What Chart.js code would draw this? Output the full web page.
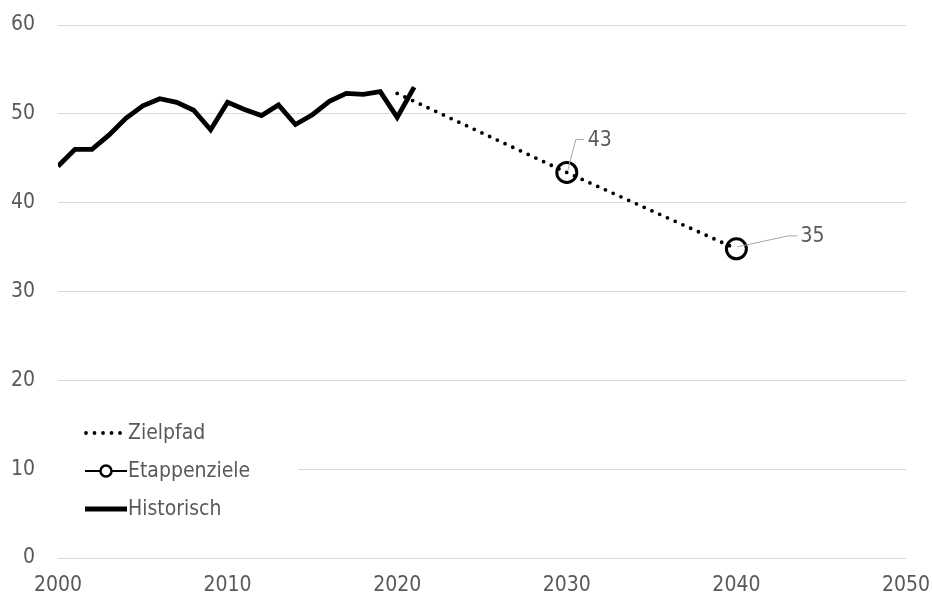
<!DOCTYPE html>
<html>
<head>
<meta charset="utf-8">
<script src="https://cdn.jsdelivr.net/npm/chart.js@4"></script>
<style>
  html, body { margin: 0; padding: 0; background: #fff; }
  #wrap { width: 932px; height: 598px; }
</style>
</head>
<body>
<div id="wrap"><canvas id="chart"></canvas></div>
<script>
// Historische Werte
const histYears = [2000, 2001, 2002, 2003, 2004, 2005, 2006, 2007, 2008, 2009, 2010,
                   2011, 2012, 2013, 2014, 2015, 2016, 2017, 2018, 2019, 2020, 2021];
const histValues = [44.1, 46.0, 46.0, 47.6, 49.5, 50.9, 51.7, 51.3, 50.4, 48.2, 51.3,
                    50.5, 49.8, 51.0, 48.8, 49.9, 51.4, 52.3, 52.2, 52.5, 49.6, 53.0];

// Zielpfad
const pathYears = [2020, 2030, 2040];
const pathValues = [52.3, 43.4, 34.8];

// Etappenziele
const goalYears = [2030, 2040];
const goalValues = [43.4, 34.8];
const goalLabels = ['43', '35'];

const FONT = '"DejaVu Sans Condensed", "Open Sans", sans-serif';
const TXT = '#595959';

const toXY = (xs, ys) => xs.map((x, i) => ({ x: x, y: ys[i] }));

// Beschriftungen der Etappenziele mit Führungslinie
const goalLabelPlugin = {
  id: 'goalLabels',
  afterDatasetsDraw(chart) {
    const ctx = chart.ctx;
    const meta = chart.getDatasetMeta(1);
    // Versatz der Beschriftung (Knick, Ende, Text)
    const offs = [
      { kx: 9, ky: -33, ex: 17, tx: 21, ty: -32 },
      { kx: 52, ky: -13, ex: 61, tx: 64, ty: -12 }
    ];
    ctx.save();
    meta.data.forEach((pt, i) => {
      const o = offs[i];
      ctx.strokeStyle = '#a6a6a6';
      ctx.lineWidth = 1;
      ctx.beginPath();
      ctx.moveTo(pt.x + 1, pt.y - 2);
      ctx.lineTo(pt.x + o.kx, pt.y + o.ky);
      ctx.lineTo(pt.x + o.ex, pt.y + o.ky);
      ctx.stroke();
      ctx.fillStyle = TXT;
      ctx.font = '21px ' + FONT;
      ctx.textAlign = 'left';
      ctx.textBaseline = 'middle';
      ctx.fillText(goalLabels[i], pt.x + o.tx, pt.y + o.ty);
    });
    ctx.restore();
  }
};

// Legende im Diagramm unten links
const legendPlugin = {
  id: 'innerLegend',
  afterDraw(chart) {
    const ctx = chart.ctx;
    const area = chart.chartArea;
    const x0 = area.left + 27;
    const rows = [433, 471, 509];
    ctx.save();
    ctx.fillStyle = '#fff';
    ctx.fillRect(area.left - 1, 412, 241, 118);

    const ds = chart.data.datasets;
    // Zielpfad
    ctx.strokeStyle = '#000';
    ctx.lineCap = 'round';
    ctx.lineWidth = ds[0].borderWidth;
    ctx.setLineDash(ds[0].borderDash);
    ctx.beginPath();
    ctx.moveTo(x0 + 1, rows[0]);
    ctx.lineTo(x0 + 42, rows[0]);
    ctx.stroke();
    ctx.setLineDash([]);

    // Etappenziele
    ctx.lineCap = 'butt';
    ctx.lineWidth = 2;
    ctx.beginPath();
    ctx.moveTo(x0, rows[1]);
    ctx.lineTo(x0 + 42, rows[1]);
    ctx.stroke();
    ctx.lineWidth = 2.5;
    ctx.fillStyle = '#fff';
    ctx.beginPath();
    ctx.arc(x0 + 21, rows[1], 5.5, 0, Math.PI * 2);
    ctx.fill();
    ctx.stroke();

    // Historisch
    ctx.lineWidth = ds[2].borderWidth;
    ctx.beginPath();
    ctx.moveTo(x0, rows[2]);
    ctx.lineTo(x0 + 42, rows[2]);
    ctx.stroke();

    ctx.fillStyle = TXT;
    ctx.font = '21px ' + FONT;
    ctx.textAlign = 'left';
    ctx.textBaseline = 'middle';
    ['Zielpfad', 'Etappenziele', 'Historisch'].forEach((t, i) => {
      ctx.fillText(t, x0 + 43, rows[i] + 1);
    });
    ctx.restore();
  }
};

new Chart(document.getElementById('chart'), {
  type: 'line',
  data: {
    datasets: [
      {
        label: 'Zielpfad',
        data: toXY(pathYears, pathValues),
        borderColor: '#000',
        borderWidth: 3.8,
        borderDash: [0, 8.5],
        borderCapStyle: 'round',
        pointRadius: 0,
        fill: false,
        order: 1
      },
      {
        label: 'Etappenziele',
        data: toXY(goalYears, goalValues),
        showLine: false,
        pointRadius: 10,
        pointBorderWidth: 3,
        pointBorderColor: '#000',
        pointBackgroundColor: 'rgba(0,0,0,0)',
        order: 2
      },
      {
        label: 'Historisch',
        data: toXY(histYears, histValues),
        borderColor: '#000',
        borderWidth: 4.8,
        borderJoinStyle: 'miter',
        pointRadius: 0,
        tension: 0,
        fill: false,
        order: 3
      }
    ]
  },
  options: {
    responsive: true,
    maintainAspectRatio: false,
    animation: false,
    layout: { padding: { top: 25, right: 26, left: 0, bottom: 0 } },
    plugins: {
      legend: { display: false },
      tooltip: { enabled: false }
    },
    scales: {
      x: {
        type: 'linear',
        min: 2000,
        max: 2050,
        grid: { display: false },
        border: { display: false },
        ticks: {
          stepSize: 10,
          color: TXT,
          font: { family: FONT, size: 21 },
          padding: 7,
          maxRotation: 0,
          callback: v => String(v)
        },
        afterFit: s => { s.height = 40; s.paddingRight = 0; s.paddingLeft = 0; }
      },
      y: {
        min: 0,
        max: 60,
        grid: {
          color: '#d9d9d9',
          lineWidth: 1,
          drawTicks: true,
          tickLength: 23,
          tickColor: 'rgba(0,0,0,0)'
        },
        border: { display: false },
        ticks: {
          stepSize: 10,
          color: TXT,
          font: { family: FONT, size: 21 },
          crossAlign: 'near',
          padding: 0
        },
        afterFit: s => { s.width = 58; }
      }
    }
  },
  plugins: [goalLabelPlugin, legendPlugin]
});
</script>
</body>
</html>
